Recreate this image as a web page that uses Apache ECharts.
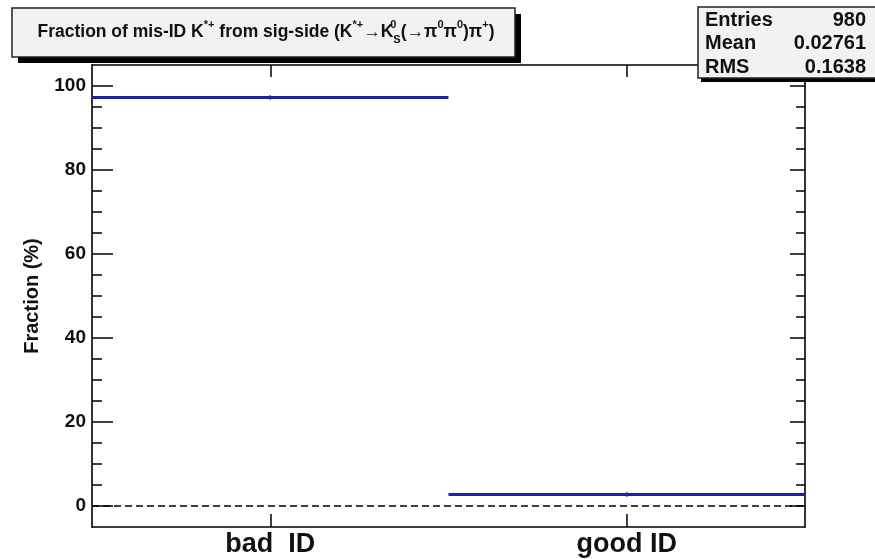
<!DOCTYPE html>
<html>
<head>
<meta charset="utf-8">
<script src="https://cdn.jsdelivr.net/npm/echarts@6/dist/echarts.min.js"></script>
<style>
  html, body { margin: 0; padding: 0; background: #ffffff; }
  #chart { width: 875px; height: 559px; }
</style>
</head>
<body>
<div id="chart"></div>
<script>
// Two-bin histogram: fraction of K*+ candidates with bad / good ID
const categories = ['bad  ID', 'good ID'];
const fractions = [97.239, 2.761];          // percent
const fractionErrors = [0.53, 0.53];        // statistical error, percent
const yMajorTicks = [0, 20, 40, 60, 80, 100];
const yMinorTicks = [5, 10, 15, 25, 30, 35, 45, 50, 55, 65, 70, 75, 85, 90, 95];
const statsNames = ['Entries', 'Mean', 'RMS'];
const statsValues = ['980', '0.02761', '0.1638'];

const FONT = '"Liberation Sans", "DejaVu Sans", Arial, sans-serif';
const BLUE = '#1e1ea8';
const frameLine = { show: true, onZero: false, lineStyle: { color: '#000', width: 1.6 } };
const tickStyle = { color: '#000', width: 1.5 };

const chart = echarts.init(document.getElementById('chart'), null, { renderer: 'canvas' });

function renderBin(params, api) {
  const idx = api.value(0);
  const val = api.value(1);
  const err = api.value(2);
  const c = api.coord([idx, val]);
  const w = api.size([1, 0])[0];
  const lo = api.coord([idx, val - err])[1];
  const hi = api.coord([idx, val + err])[1];
  return {
    type: 'group',
    children: [
      { type: 'line', shape: { x1: c[0] - w / 2, y1: c[1], x2: c[0] + w / 2, y2: c[1] },
        style: { stroke: BLUE, lineWidth: 3 } },
      { type: 'line', shape: { x1: c[0], y1: lo, x2: c[0], y2: hi },
        style: { stroke: BLUE, lineWidth: 1.5 } }
    ]
  };
}

// stats box text pieces
const statsGraphics = [];
statsNames.forEach((n, i) => {
  statsGraphics.push({
    type: 'text', z: 102, x: 705, y: 20 + i * 23.5,
    style: { text: n, font: 'bold 20px ' + FONT, fill: '#111', textVerticalAlign: 'middle' }
  });
  statsGraphics.push({
    type: 'text', z: 102, x: 866, y: 20 + i * 23.5,
    style: { text: statsValues[i], font: 'bold 20px ' + FONT, fill: '#111', textAlign: 'right', textVerticalAlign: 'middle' }
  });
});

const option = {
  backgroundColor: '#ffffff',
  animation: false,
  grid: { left: 92, right: 70, top: 65, bottom: 32 },
  xAxis: [
    {
      type: 'category', data: categories, position: 'bottom', boundaryGap: true,
      axisLine: frameLine,
      axisTick: { show: true, alignWithLabel: true, inside: true, length: 13, lineStyle: tickStyle },
      axisLabel: { color: '#111', fontSize: 27, fontWeight: 'bold', fontFamily: FONT, margin: 4 },
      splitLine: { show: false }
    },
    {
      type: 'category', data: categories, position: 'top', boundaryGap: true,
      axisLine: frameLine,
      axisTick: { show: true, alignWithLabel: true, inside: true, length: 12, lineStyle: tickStyle },
      axisLabel: { show: false },
      splitLine: { show: false }
    }
  ],
  yAxis: [
    {
      type: 'value', min: -5, max: 105, position: 'left',
      axisLine: frameLine,
      axisTick: { show: true, inside: true, length: 21, customValues: yMajorTicks, lineStyle: tickStyle },
      axisLabel: { customValues: yMajorTicks, color: '#111', fontSize: 19, fontWeight: 'bold', fontFamily: FONT, margin: 6 },
      splitLine: { show: false },
      name: 'Fraction (%)', nameLocation: 'middle', nameGap: 50,
      nameTextStyle: { color: '#111', fontSize: 20, fontWeight: 'bold', fontFamily: FONT }
    },
    {
      type: 'value', min: -5, max: 105, position: 'left',
      axisLine: { show: false, onZero: false },
      axisTick: { show: true, inside: true, length: 10, customValues: yMinorTicks, lineStyle: tickStyle },
      axisLabel: { show: false },
      splitLine: { show: false }
    },
    {
      type: 'value', min: -5, max: 105, position: 'right',
      axisLine: frameLine,
      axisTick: { show: true, inside: true, length: 15, customValues: yMajorTicks, lineStyle: tickStyle },
      axisLabel: { show: false },
      splitLine: { show: false }
    },
    {
      type: 'value', min: -5, max: 105, position: 'right',
      axisLine: { show: false, onZero: false },
      axisTick: { show: true, inside: true, length: 9, customValues: yMinorTicks, lineStyle: tickStyle },
      axisLabel: { show: false },
      splitLine: { show: false }
    }
  ],
  series: [
    {
      type: 'custom',
      xAxisIndex: 0, yAxisIndex: 0,
      renderItem: renderBin,
      data: categories.map((c, i) => [i, fractions[i], fractionErrors[i]]),
      markLine: {
        silent: true, symbol: 'none', label: { show: false },
        lineStyle: { color: '#000', type: [7, 4], width: 1.5 },
        data: [{ yAxis: 0 }]
      },
      z: 5
    }
  ],
  graphic: [
    // title box with hard shadow
    { type: 'rect', z: 100, shape: { x: 18, y: 14, width: 503, height: 49 }, style: { fill: '#000' } },
    { type: 'rect', z: 101, shape: { x: 12, y: 8, width: 503, height: 49 },
      style: { fill: '#f2f2f2', stroke: '#222', lineWidth: 1.5 } },
    {
      type: 'text', z: 102, x: 266, y: 32,
      style: {
        text: 'Fraction of mis-ID K{sup|*+} from sig-side (K{sup|*+}{b|→}K{sz|0}{sb|S}{b|(→π}{sup|0}{b|π}{sup|0}{b|)π}{sup|+}{b|)}',
        textAlign: 'center', textVerticalAlign: 'middle',
        font: 'bold 17.5px ' + FONT, fill: '#111',
        rich: {
          b: { fontSize: 17.5, fontWeight: 'bold', fontFamily: FONT, lineHeight: 26, verticalAlign: 'middle' },
          sup: { fontSize: 11, fontWeight: 'bold', fontFamily: FONT, lineHeight: 14, verticalAlign: 'top' },
          sz: { fontSize: 11, fontWeight: 'bold', fontFamily: FONT, lineHeight: 14, verticalAlign: 'top', width: 0 },
          sb: { fontSize: 11, fontWeight: 'bold', fontFamily: FONT, lineHeight: 12, verticalAlign: 'bottom' }
        }
      }
    },
    // stats box
    { type: 'rect', z: 100, shape: { x: 701, y: 11, width: 180, height: 71 }, style: { fill: '#000' } },
    { type: 'rect', z: 101, shape: { x: 698, y: 7, width: 180, height: 71 },
      style: { fill: '#f2f2f2', stroke: '#222', lineWidth: 1.5 } }
  ].concat(statsGraphics)
};

chart.setOption(option);
</script>
</body>
</html>
